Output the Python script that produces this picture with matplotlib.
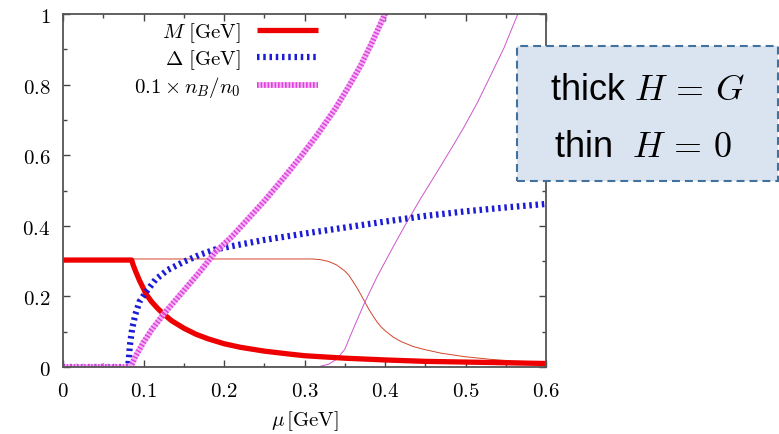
import matplotlib
matplotlib.use("Agg")
import matplotlib.pyplot as plt
from matplotlib.patches import Rectangle
from matplotlib.ticker import MultipleLocator, FuncFormatter

plt.rcParams['mathtext.fontset'] = 'cm'

# chemical potential grids (GeV) and curves, H = G (thick)
mu_m_thick = [0.0, 0.0853, 0.087, 0.09, 0.095, 0.10, 0.103, 0.11, 0.118, 0.125, 0.135,
              0.15, 0.165, 0.18, 0.2, 0.22, 0.25, 0.28, 0.3, 0.35, 0.4, 0.45, 0.5,
              0.55, 0.6]
m_thick = [0.303, 0.303, 0.29, 0.272, 0.245, 0.222, 0.207, 0.185, 0.165, 0.150, 0.131,
           0.110, 0.093, 0.080, 0.066, 0.056, 0.045, 0.037, 0.032, 0.025, 0.020, 0.016,
           0.014, 0.012, 0.010]

mu_d_thick = [0.0, 0.081, 0.083, 0.086, 0.09, 0.095, 0.103, 0.115, 0.13, 0.15, 0.17,
              0.189, 0.22, 0.25, 0.3, 0.35, 0.4, 0.45, 0.5, 0.55, 0.6]
d_thick = [0.0, 0.0, 0.06, 0.11, 0.15, 0.185, 0.212, 0.248, 0.275, 0.298, 0.318,
           0.333, 0.347, 0.36, 0.378, 0.395, 0.412, 0.428, 0.441, 0.452, 0.462]

mu_n_thick = [0.0, 0.083, 0.086, 0.09, 0.095, 0.10, 0.11, 0.125, 0.14, 0.155, 0.17,
              0.189, 0.21, 0.23, 0.25, 0.276, 0.295, 0.315, 0.338, 0.355, 0.37, 0.385,
              0.40, 0.41]
n_thick = [0.0, 0.0, 0.01, 0.03, 0.05, 0.07, 0.105, 0.15, 0.19, 0.23, 0.27,
           0.325, 0.37, 0.42, 0.47, 0.541, 0.595, 0.655, 0.731, 0.795, 0.855, 0.925,
           1.0, 1.05]

# H = 0 (thin)
mu_m_thin = [0.0, 0.31, 0.32, 0.33, 0.34, 0.35, 0.355, 0.36, 0.365, 0.37, 0.375, 0.38,
             0.385, 0.39, 0.395, 0.40, 0.41, 0.42, 0.435, 0.45, 0.47, 0.5, 0.53, 0.56,
             0.6]
m_thin = [0.306, 0.306, 0.304, 0.299, 0.289, 0.272, 0.26, 0.243, 0.225, 0.205, 0.184,
          0.163, 0.145, 0.128, 0.114, 0.103, 0.085, 0.072, 0.058, 0.049, 0.039, 0.029,
          0.022, 0.017, 0.013]

mu_d_thin = [0.0, 0.6]
d_thin = [0.0, 0.0]

mu_n_thin = [0.0, 0.316, 0.33, 0.34, 0.35, 0.36, 0.375, 0.39, 0.41, 0.427, 0.445,
             0.464, 0.48, 0.497, 0.515, 0.53, 0.548, 0.565, 0.575]
n_thin = [0.0, 0.0, 0.008, 0.022, 0.05, 0.105, 0.184, 0.255, 0.34, 0.41, 0.48,
          0.55, 0.61, 0.675, 0.75, 0.82, 0.905, 1.0, 1.05]

labels = [r'$M\ [\mathrm{GeV}]$', r'$\Delta\ [\mathrm{GeV}]$', r'$0.1\times n_B/n_0$']

fig = plt.figure(figsize=(7.79, 4.35), dpi=100)
ax = fig.add_axes([0.0809, 0.154, 0.620, 0.8115])

red = '#ee0000'
blue = '#1c1cd8'
pink = '#dd44dd'

# thin curves first so the thick ones sit on top
ax.plot(mu_m_thin, m_thin, color='#d2452a', lw=0.7)
ax.plot(mu_d_thin, d_thin, color=blue, lw=1.0, linestyle=(0, (1.5, 1.5)))
ax.plot(mu_n_thin, n_thin, color='#cc55cc', lw=0.7)

l1, = ax.plot(mu_m_thick, m_thick, color=red, lw=3.8, solid_capstyle='butt')
l2, = ax.plot(mu_d_thick, d_thick, color=blue, lw=4.5, linestyle=(0, (0.4, 0.6)))
l3, = ax.plot(mu_n_thick, n_thick, color=pink, lw=4.2, linestyle=(0, (0.3, 0.3)),
              gapcolor='#f6b6f6')

ax.set_xlim(0, 0.6)
ax.set_ylim(0, 1)
ax.xaxis.set_major_locator(MultipleLocator(0.1))
ax.xaxis.set_minor_locator(MultipleLocator(0.05))
ax.yaxis.set_major_locator(MultipleLocator(0.2))
ax.yaxis.set_minor_locator(MultipleLocator(0.1))
fmt = FuncFormatter(lambda v, _: f'${v:g}$')
ax.xaxis.set_major_formatter(fmt)
ax.yaxis.set_major_formatter(fmt)
ax.tick_params(which='both', direction='in', top=True, right=True, color='#444444',
               labelsize=15)
ax.tick_params(which='major', length=5, width=1, pad=9)
ax.tick_params(which='minor', length=3, width=1)
for s in ax.spines.values():
    s.set_color('#555555')
    s.set_linewidth(1.3)

ax.set_xlabel(r'$\mu\,[\mathrm{GeV}]$', fontsize=15, labelpad=6)

ax.legend([l1, l2, l3], labels, loc='upper right', bbox_to_anchor=(0.54, 1.0),
          markerfirst=False, frameon=False, fontsize=15, handlelength=2.9,
          handletextpad=0.8, labelspacing=0.15, borderaxespad=0.0, borderpad=0.3)

# annotation box to the right
box = Rectangle((0.6637, 0.5816), 0.335, 0.310, transform=fig.transFigure,
                facecolor='#dae3f0', edgecolor='#41719c', lw=1.5,
                linestyle=(0, (3.8, 2.4)), zorder=5)
fig.patches.append(box)
fig.text(0.831, 0.793, r'thick $H\,=\,G$', ha='center', va='center', fontsize=26,
         family='Liberation Sans', zorder=6)
fig.text(0.826, 0.662, r'thin  $H\,=\,0$', ha='center', va='center', fontsize=26,
         family='Liberation Sans', zorder=6)

fig.savefig('out.png', dpi=100)
